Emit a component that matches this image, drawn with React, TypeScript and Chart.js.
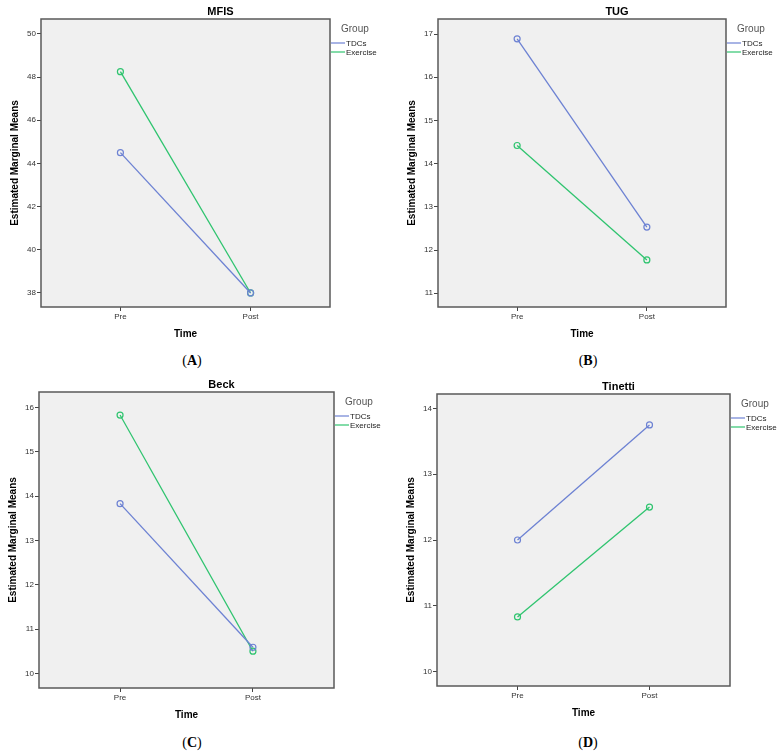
import React, { useEffect, useRef } from 'react';
import { Chart, registerables } from 'chart.js';
Chart.register(...registerables);

const TIME_LABELS = ['Pre', 'Post'];
const GROUPS = ['TDCs', 'Exercise'];
const GROUP_COLORS = ['#6d82d3', '#2fc46f'];

const MFIS_TDCS = [44.5, 38.0];
const MFIS_EXERCISE = [48.25, 38.0];
const MFIS_TICKS = [38, 40, 42, 44, 46, 48, 50];

const TUG_TDCS = [16.89, 12.53];
const TUG_EXERCISE = [14.42, 11.77];
const TUG_TICKS = [11, 12, 13, 14, 15, 16, 17];

const BECK_TDCS = [13.83, 10.59];
const BECK_EXERCISE = [15.83, 10.5];
const BECK_TICKS = [10, 11, 12, 13, 14, 15, 16];

const TINETTI_TDCS = [12.0, 13.75];
const TINETTI_EXERCISE = [10.83, 12.5];
const TINETTI_TICKS = [10, 11, 12, 13, 14];

const FONT = "'Liberation Sans', Arial, sans-serif";
const CW = 391;
const CH = 350;

type PanelProps = {
  title: string;
  tdcs: number[];
  exercise: number[];
  ticks: number[];
  yMin: number;
  yMax: number;
  area: { l: number; r: number; t: number; b: number };
  left: number;
  top: number;
  caption: string;
  capX: number;
  capY: number;
};

function Panel(p: PanelProps) {
  const ref = useRef<HTMLCanvasElement | null>(null);
  useEffect(() => {
    if (!ref.current) return;
    const series = [p.tdcs, p.exercise];
    const decor = {
      id: 'decor',
      beforeDraw(chart: any) {
        const { ctx, chartArea: a } = chart;
        ctx.save();
        ctx.fillStyle = '#f0f0f0';
        ctx.fillRect(a.left, a.top, a.right - a.left, a.bottom - a.top);
        ctx.restore();
      },
      afterDraw(chart: any) {
        const { ctx, chartArea: a } = chart;
        ctx.save();
        ctx.strokeStyle = '#5a5a5a';
        ctx.lineWidth = 1.5;
        ctx.strokeRect(a.left, a.top, a.right - a.left, a.bottom - a.top);
        // title
        ctx.fillStyle = '#000';
        ctx.font = `bold 11px ${FONT}`;
        ctx.textAlign = 'center';
        ctx.textBaseline = 'middle';
        ctx.fillText(p.title, (a.left + a.right) / 2 + 35, a.top - 7);
        // legend
        ctx.textAlign = 'left';
        ctx.fillStyle = '#555';
        ctx.font = `10px ${FONT}`;
        ctx.fillText('Group', a.right + 11, a.top + 10);
        chart.data.datasets.forEach((ds: any, i: number) => {
          const y = a.top + 24 + i * 9;
          ctx.strokeStyle = ds.borderColor;
          ctx.lineWidth = 1.2;
          ctx.beginPath();
          ctx.moveTo(a.right + 1, y);
          ctx.lineTo(a.right + 15, y);
          ctx.stroke();
          ctx.fillStyle = '#222';
          ctx.font = `8px ${FONT}`;
          ctx.fillText(ds.label, a.right + 16, y + 0.5);
        });
        ctx.restore();
      },
    };
    const chart = new Chart(ref.current, {
      type: 'line',
      data: {
        datasets: GROUPS.map((g, gi) => ({
          label: g,
          data: series[gi].map((v, i) => ({ x: i, y: v })),
          borderColor: GROUP_COLORS[gi],
          borderWidth: 1.3,
          pointRadius: 3,
          pointBorderWidth: 1.2,
          pointBackgroundColor: 'rgba(0,0,0,0)',
          pointBorderColor: GROUP_COLORS[gi],
          tension: 0,
          fill: false,
        })),
      },
      options: {
        animation: false,
        responsive: false,
        events: [],
        layout: {
          padding: {
            left: p.area.l - 32,
            top: p.area.t,
            right: CW - p.area.r,
            bottom: CH - p.area.b - 33,
          },
        },
        plugins: { legend: { display: false }, title: { display: false }, tooltip: { enabled: false } },
        scales: {
          x: {
            type: 'linear',
            min: -0.61,
            max: 1.61,
            afterBuildTicks: (s: any) => {
              s.ticks = TIME_LABELS.map((_, i) => ({ value: i }));
            },
            afterFit: (s: any) => {
              s.height = 33;
            },
            ticks: {
              callback: (v: any) => TIME_LABELS[v] ?? '',
              font: { family: FONT, size: 8 },
              color: '#333',
              padding: 1,
              autoSkip: false,
              maxRotation: 0,
            },
            grid: { drawOnChartArea: false, drawTicks: true, tickLength: 4, color: '#444' },
            border: { display: false },
            title: {
              display: true,
              text: 'Time',
              font: { family: FONT, size: 10, weight: 'bold' },
              color: '#000',
              padding: 0,
            },
          },
          y: {
            type: 'linear',
            min: p.yMin,
            max: p.yMax,
            afterBuildTicks: (s: any) => {
              s.ticks = p.ticks.map((v) => ({ value: v }));
            },
            afterFit: (s: any) => {
              s.width = 32;
            },
            ticks: {
              font: { family: FONT, size: 8 },
              color: '#333',
              padding: 1,
            },
            grid: { drawOnChartArea: false, drawTicks: true, tickLength: 4, color: '#444' },
            border: { display: false },
            title: {
              display: true,
              text: 'Estimated Marginal Means',
              font: { family: FONT, size: 10, weight: 'bold' },
              color: '#000',
              padding: 0,
            },
          },
        },
      },
      plugins: [decor],
    } as any);
    return () => chart.destroy();
  }, []);
  return (
    <>
      <div style={{ position: 'absolute', left: p.left, top: p.top, width: CW, height: CH }}>
        <canvas ref={ref} width={CW} height={CH} style={{ width: CW, height: CH, display: 'block' }} />
      </div>
      <div
        style={{
          position: 'absolute',
          left: p.capX - 30,
          top: p.capY - 9,
          width: 60,
          height: 18,
          lineHeight: '18px',
          textAlign: 'center',
          fontFamily: "'Liberation Serif', 'Times New Roman', serif",
          fontSize: 14,
          color: '#000',
        }}
      >
        (<b>{p.caption}</b>)
      </div>
    </>
  );
}

export default function App() {
  return (
    <div style={{ position: 'absolute', left: 0, top: 0, width: 782, height: 753, background: '#fff', overflow: 'hidden' }}>
      <Panel title="MFIS" tdcs={MFIS_TDCS} exercise={MFIS_EXERCISE} ticks={MFIS_TICKS} yMin={37.35} yMax={50.69}
        area={{ l: 41, r: 330, t: 19, b: 307 }} left={0} top={0} caption="A" capX={192} capY={361} />
      <Panel title="TUG" tdcs={TUG_TDCS} exercise={TUG_EXERCISE} ticks={TUG_TICKS} yMin={10.68} yMax={17.35}
        area={{ l: 47, r: 335, t: 19, b: 307 }} left={391} top={0} caption="B" capX={588} capY={361} />
      <Panel title="Beck" tdcs={BECK_TDCS} exercise={BECK_EXERCISE} ticks={BECK_TICKS} yMin={9.67} yMax={16.35}
        area={{ l: 39, r: 334, t: 16, b: 312 }} left={0} top={376} caption="C" capX={192} capY={743} />
      <Panel title="Tinetti" tdcs={TINETTI_TDCS} exercise={TINETTI_EXERCISE} ticks={TINETTI_TICKS} yMin={9.78} yMax={14.22}
        area={{ l: 46, r: 339, t: 18, b: 310 }} left={391} top={376} caption="D" capX={588} capY={743} />
    </div>
  );
}
